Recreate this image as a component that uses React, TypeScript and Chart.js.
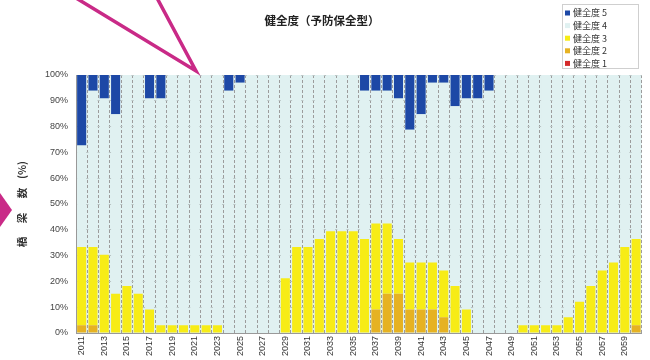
import React, { useEffect, useRef } from "react";
import { Chart, registerables } from "chart.js";

Chart.register(...registerables);

// ---- data ----
const years = [
  "2011", "2012", "2013", "2014", "2015", "2016", "2017", "2018", "2019", "2020",
  "2021", "2022", "2023", "2024", "2025", "2026", "2027", "2028", "2029", "2030",
  "2031", "2032", "2033", "2034", "2035", "2036", "2037", "2038", "2039", "2040",
  "2041", "2042", "2043", "2044", "2045", "2046", "2047", "2048", "2049", "2050",
  "2051", "2052", "2053", "2054", "2055", "2056", "2057", "2058", "2059", "2060",
];

// 健全度 1 (red)
const deg1 = [
  0, 0, 0, 0, 0, 0, 0, 0, 0, 0,
  0, 0, 0, 0, 0, 0, 0, 0, 0, 0,
  0, 0, 0, 0, 0, 0, 0, 0, 0, 0,
  0, 0, 0, 0, 0, 0, 0, 0, 0, 0,
  0, 0, 0, 0, 0, 0, 0, 0, 0, 0,
];
// 健全度 2 (orange)
const deg2 = [
  3.0, 3.0, 0, 0, 0, 0, 0, 0, 0, 0,
  0, 0, 0, 0, 0, 0, 0, 0, 0, 0,
  0, 0, 0, 0, 0, 0, 9.1, 15.2, 15.2, 9.1,
  9.1, 9.1, 6.1, 0, 0, 0, 0, 0, 0, 0,
  0, 0, 0, 0, 0, 0, 0, 0, 0, 3.0,
];
// 健全度 3 (yellow)
const deg3 = [
  30.3, 30.3, 30.3, 15.2, 18.2, 15.2, 9.1, 3.0, 3.0, 3.0,
  3.0, 3.0, 3.0, 0, 0, 0, 0, 0, 21.2, 33.3,
  33.3, 36.4, 39.4, 39.4, 39.4, 36.4, 33.3, 27.2, 21.2, 18.2,
  18.2, 18.2, 18.1, 18.2, 9.1, 0, 0, 0, 0, 3.0,
  3.0, 3.0, 3.0, 6.1, 12.1, 18.2, 24.2, 27.3, 33.3, 33.4,
];
// 健全度 4 (pale)
const deg4 = [
  39.4, 60.6, 60.6, 69.6, 81.8, 84.8, 81.8, 87.9, 97.0, 97.0,
  97.0, 97.0, 97.0, 93.9, 97.0, 100, 100, 100, 78.8, 66.7,
  66.7, 63.6, 60.6, 60.6, 60.6, 57.5, 51.5, 51.5, 54.5, 51.5,
  57.5, 69.7, 72.8, 69.7, 81.8, 90.9, 93.9, 100, 100, 97.0,
  97.0, 97.0, 97.0, 93.9, 87.9, 81.8, 75.8, 72.7, 66.7, 63.6,
];
// 健全度 5 (blue)
const deg5 = [
  27.3, 6.1, 9.1, 15.2, 0, 0, 9.1, 9.1, 0, 0,
  0, 0, 0, 6.1, 3.0, 0, 0, 0, 0, 0,
  0, 0, 0, 0, 0, 6.1, 6.1, 6.1, 9.1, 21.2,
  15.2, 3.0, 3.0, 12.1, 9.1, 9.1, 6.1, 0, 0, 0,
  0, 0, 0, 0, 0, 0, 0, 0, 0, 0,
];

const seriesLabels = ["健全度 1", "健全度 2", "健全度 3", "健全度 4", "健全度 5"];
const seriesColors = ["#d42a2a", "#e6b222", "#f7ec16", "#e0f1f1", "#1d48a6"];

const chartTitle = "健全度（予防保全型）";
const yTitleParts = ["橋", "梁", "数", "(%)"];

const PLOT_BG = "#e0f1f1";
const SANS = "'Liberation Sans', 'Noto Sans CJK JP', sans-serif";
const CJK = "'Noto Sans CJK JP', sans-serif";

const decorPlugin = {
  id: "decor",
  beforeDraw(chart: any) {
    const { ctx, chartArea: a } = chart;
    ctx.save();
    ctx.fillStyle = PLOT_BG;
    ctx.fillRect(a.left, a.top, a.right - a.left, a.bottom - a.top);
    ctx.restore();
  },
  afterDraw(chart: any) {
    const { ctx, chartArea: a } = chart;
    ctx.save();

    // title
    ctx.fillStyle = "#222";
    ctx.font = `bold 11.5px ${CJK}`;
    ctx.textAlign = "center";
    ctx.textBaseline = "middle";
    ctx.fillText(chartTitle, 322, 21);

    // y axis title (rotated)
    ctx.save();
    ctx.translate(22, (a.top + a.bottom) / 2);
    ctx.rotate(-Math.PI / 2);
    ctx.font = `bold 10.5px ${CJK}`;
    ctx.fillStyle = "#333";
    const offs = [-38, -14, 11, 34];
    yTitleParts.forEach((t, i) => ctx.fillText(t, offs[i], 0));
    ctx.restore();

    // legend box
    const lx = 562.5, ly = 4.5, lw = 76, lh = 64;
    ctx.fillStyle = "#ffffff";
    ctx.fillRect(lx, ly, lw, lh);
    ctx.strokeStyle = "#cfcfcf";
    ctx.lineWidth = 1;
    ctx.strokeRect(lx, ly, lw, lh);
    const ds = chart.data.datasets.slice().reverse();
    ctx.font = `9px ${CJK}`;
    ctx.textAlign = "left";
    ctx.textBaseline = "middle";
    ds.forEach((d: any, i: number) => {
      const y = 13 + i * 12.6;
      ctx.fillStyle = d.backgroundColor;
      ctx.fillRect(565, y - 2.5, 5, 5);
      ctx.fillStyle = "#333";
      ctx.fillText(d.label, 573, y);
    });

    // pink callout decorations
    ctx.strokeStyle = "#c92a87";
    ctx.lineWidth = 3.5;
    ctx.lineJoin = "miter";
    ctx.beginPath();
    ctx.moveTo(76, -2);
    ctx.lineTo(196, 71);
    ctx.lineTo(157, -2);
    ctx.stroke();
    ctx.fillStyle = "#c92a87";
    ctx.beginPath();
    ctx.moveTo(0, 193);
    ctx.lineTo(12, 210);
    ctx.lineTo(0, 227);
    ctx.closePath();
    ctx.fill();

    ctx.restore();
  },
};

export default function App() {
  const ref = useRef<HTMLCanvasElement | null>(null);

  useEffect(() => {
    if (!ref.current) return;
    const series = [deg1, deg2, deg3, deg4, deg5];
    const chart = new Chart(ref.current, {
      type: "bar",
      data: {
        labels: years,
        datasets: series.map((s, i) => ({
          label: seriesLabels[i],
          data: s,
          backgroundColor: seriesColors[i],
          borderWidth: 0,
          barPercentage: 0.8,
          categoryPercentage: 1.0,
        })),
      },
      options: {
        responsive: false,
        animation: false,
        layout: { padding: { left: 0, top: 75, right: 8, bottom: 0 } },
        plugins: {
          legend: { display: false },
          title: { display: false },
          tooltip: { enabled: false },
        },
        scales: {
          x: {
            stacked: true,
            grid: {
              display: true,
              offset: true,
              color: "#9c9c9c",
              lineWidth: 1,
              drawTicks: false,
              tickBorderDash: [3, 2],
            },
            border: { display: true, color: "#999", dash: [3, 2] },
            ticks: {
              autoSkip: false,
              minRotation: 90,
              maxRotation: 90,
              padding: 3,
              color: "#333",
              font: { size: 9, family: SANS },
              callback: (_v: any, i: number) => (i % 2 === 0 ? years[i] : ""),
            },
            afterFit: (scale: any) => {
              scale.height = 27;
            },
          },
          y: {
            stacked: true,
            min: 0,
            max: 100,
            grid: {
              color: "#b9c4c4",
              lineWidth: 1,
              drawTicks: false,
            },
            border: { display: true, color: "#999" },
            ticks: {
              stepSize: 10,
              padding: 8,
              color: "#444",
              font: { size: 9, family: SANS },
              callback: (v: any) => `${v}%`,
            },
            afterFit: (scale: any) => {
              scale.width = 76;
            },
          },
        },
      },
      plugins: [decorPlugin],
    });
    return () => chart.destroy();
  }, []);

  return (
    <div style={{ position: "fixed", left: 0, top: 0, width: 650, height: 360, background: "#fff" }}>
      <canvas ref={ref} width={650} height={360} style={{ width: 650, height: 360, display: "block" }} />
    </div>
  );
}
